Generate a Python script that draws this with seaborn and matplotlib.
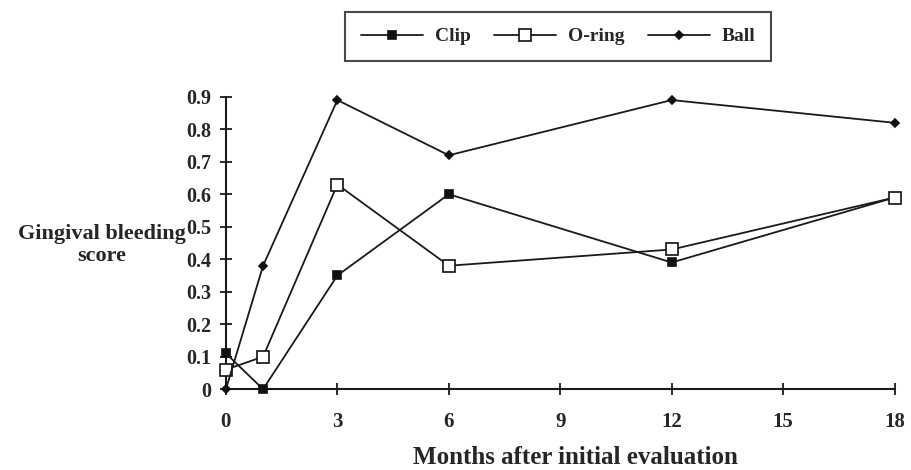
import matplotlib
matplotlib.use("Agg")
import matplotlib.pyplot as plt
import seaborn as sns
import pandas as pd

months = [0, 1, 3, 6, 12, 18]
clip = [0.11, 0.0, 0.35, 0.60, 0.39, 0.59]
oring = [0.06, 0.10, 0.63, 0.38, 0.43, 0.59]
ball = [0.0, 0.38, 0.89, 0.72, 0.89, 0.82]
series_names = ["Clip", "O-ring", "Ball"]
x_ticks = [0, 3, 6, 9, 12, 15, 18]
y_ticks = [0, 0.1, 0.2, 0.3, 0.4, 0.5, 0.6, 0.7, 0.8, 0.9]
y_tick_labels = ["0", "0.1", "0.2", "0.3", "0.4", "0.5", "0.6", "0.7", "0.8", "0.9"]

sns.set_style("white")
plt.rcParams["font.family"] = ["Liberation Serif", "DejaVu Serif"]
plt.rcParams["font.weight"] = "bold"

df = pd.DataFrame({
    "month": months * 3,
    "score": clip + oring + ball,
    "group": [n for n in series_names for _ in months],
})

fig = plt.figure(figsize=(9.11, 4.70), dpi=100)
ax = fig.add_axes([0.248, 0.172, 0.734, 0.622])

styles = {
    "Clip": dict(marker="s", markersize=6, markerfacecolor="#111111"),
    "O-ring": dict(marker="s", markersize=9, markerfacecolor="white"),
    "Ball": dict(marker="D", markersize=4.5, markerfacecolor="#111111"),
}
for name in series_names:
    sub = df[df["group"] == name]
    sns.lineplot(data=sub, x="month", y="score", ax=ax, color="#1a1a1a",
                 linewidth=1.3, markeredgecolor="#111111", markeredgewidth=1.2,
                 label=name, clip_on=False, zorder=3, **styles[name])

ax.set_xlim(0, 18)
ax.set_ylim(0, 0.9)
ax.set_xticks(x_ticks)
ax.set_yticks(y_ticks)
ax.set_yticklabels(y_tick_labels)
for s in ["top", "right"]:
    ax.spines[s].set_visible(False)
for s in ["left", "bottom"]:
    ax.spines[s].set_color("#1a1a1a")
    ax.spines[s].set_linewidth(1.5)
ax.tick_params(axis="both", bottom=True, left=True, direction="inout",
               length=9, width=1.3, color="#1a1a1a")
ax.tick_params(axis="y", labelsize=14.5, pad=6)
ax.tick_params(axis="x", labelsize=15, pad=12)
for lab in ax.get_xticklabels() + ax.get_yticklabels():
    lab.set_fontweight("bold")

ax.set_xlabel("Months after initial evaluation", fontsize=18, fontweight="bold")
ax.xaxis.set_label_coords(0.522, -0.195)
ax.set_ylabel("")
fig.text(0.112, 0.479, "Gingival bleeding\nscore", fontsize=16, fontweight="bold",
         ha="center", va="center", linespacing=1.15)

leg = ax.legend(loc="center", bbox_to_anchor=(0.6125, 0.922),
                bbox_transform=fig.transFigure, ncol=3, frameon=True,
                fancybox=False, shadow=False, handlelength=3.2,
                columnspacing=1.2, handletextpad=0.6, borderpad=0.8,
                prop={"weight": "bold", "size": 14})
leg.get_frame().set_edgecolor("#1a1a1a")
leg.get_frame().set_linewidth(1.5)

fig.savefig("out.png", dpi=100)
